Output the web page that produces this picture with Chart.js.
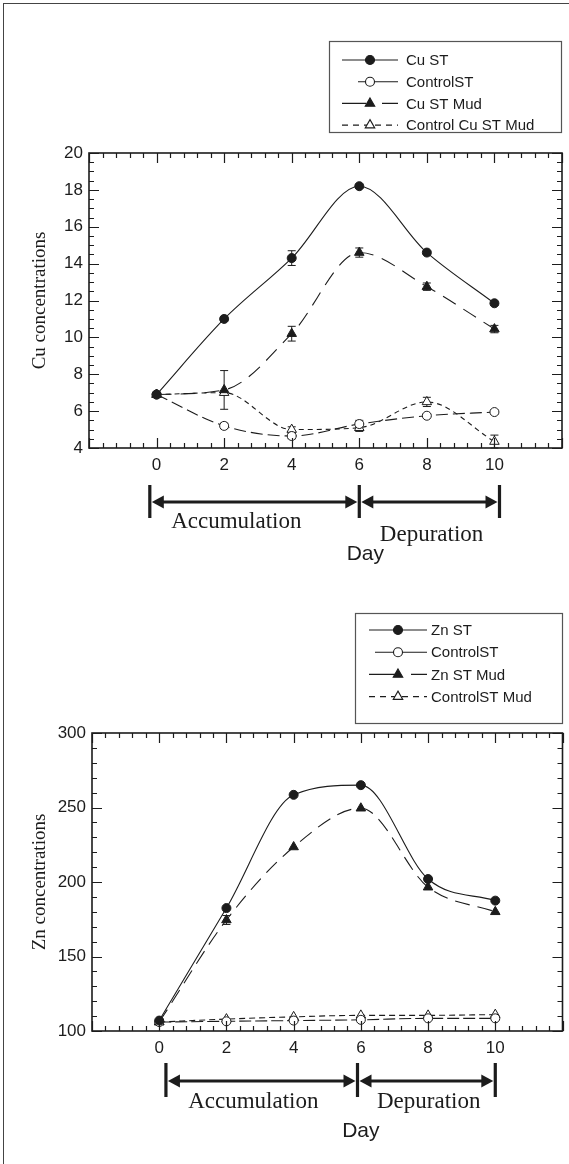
<!DOCTYPE html>
<html>
<head>
<meta charset="utf-8">
<script src="https://cdn.jsdelivr.net/npm/chart.js@4.4.0/dist/chart.umd.min.js"></script>
<style>
  body { margin: 0; background: #fff; width: 569px; height: 1164px; position: relative; overflow: hidden; }
  .frame { position: absolute; left: 3px; top: 3px; width: 600px; height: 1200px; border-left: 1px solid #444; border-top: 1px solid #444; }
  #cuChart { position: absolute; left: 0; top: 0; }
  #znChart { position: absolute; left: 0; top: 582px; }
</style>
</head>
<body>
<div class="frame"></div>
<canvas id="cuChart" width="569" height="582"></canvas>
<canvas id="znChart" width="569" height="582"></canvas>
<script>
// ---- data ----
const days = [0, 2, 4, 6, 8, 10];
const dayTicks = [0, 2, 4, 6, 8, 10];

const cuTicks = [4, 6, 8, 10, 12, 14, 16, 18, 20];
const cuST = [6.9, 11.0, 14.3, 18.2, 14.6, 11.85];
const cuSTErr = [0.1, 0.1, 0.4, 0.1, 0.1, 0.1];
const cuControlST = [6.9, 5.2, 4.65, 5.3, 5.75, 5.95];
const cuControlSTErr = [0.1, 0.15, 0.15, 0.2, 0.1, 0.1];
const cuSTMud = [6.9, 7.15, 10.2, 14.6, 12.75, 10.45];
const cuSTMudErr = [0.1, 1.05, 0.4, 0.25, 0.2, 0.2];
const cuControlMud = [6.9, 7.0, 5.0, 5.1, 6.5, 4.35];
const cuControlMudErr = [0.1, 0.1, 0.15, 0.2, 0.25, 0.35];

const znTicks = [100, 150, 200, 250, 300];
const znST = [107, 182.5, 258.5, 265, 202, 187.5];
const znSTErr = [0, 0, 0, 0, 0, 0];
const znControlST = [106, 106.5, 107, 107.5, 108.5, 108.5];
const znControlSTErr = [0, 0, 0, 0, 0, 0];
const znSTMud = [106, 174.5, 223.5, 249.5, 196.5, 180];
const znSTMudErr = [0, 3, 0, 0, 0, 0];
const znControlMud = [106, 108, 109.5, 110.5, 110.5, 111];
const znControlMudErr = [0, 0, 0, 0, 0, 0];

const ink = '#1c1c1c';
const sans = "'Liberation Sans', Arial, sans-serif";
const serif = "'Liberation Serif', 'Times New Roman', serif";

function pts(vals) {
  return days.map((d, i) => ({ x: d, y: vals[i] }));
}

function series(label, vals, errs, style, filled, dash, legendDash) {
  return {
    label: label,
    data: pts(vals),
    errors: errs,
    legendDash: legendDash,
    borderColor: ink,
    borderWidth: 1.1,
    borderDash: dash,
    pointStyle: style,
    pointRadius: style === 'triangle' ? 5.5 : 4.5,
    pointBorderWidth: 1,
    pointBorderColor: ink,
    pointBackgroundColor: filled ? ink : '#fff',
    cubicInterpolationMode: 'monotone',
    fill: false
  };
}

function isMajor(v, step) {
  return Math.abs(v / step - Math.round(v / step)) < 1e-6;
}

// box around the plot, with ticks on all four sides pointing in
const boxTicks = {
  id: 'boxTicks',
  afterDraw(chart, args, o) {
    const { ctx, chartArea: a, scales: { x, y } } = chart;
    ctx.save();
    ctx.strokeStyle = ink;
    ctx.lineWidth = 1.6;
    ctx.strokeRect(a.left, a.top, a.right - a.left, a.bottom - a.top);
    ctx.lineWidth = 1.2;
    ctx.beginPath();
    for (let i = 0; ; i++) {
      const v = x.min + i * o.xMinor;
      if (v > x.max + 1e-6) break;
      const len = isMajor(v, o.xMajor) ? 10 : 5;
      const px = Math.round(x.getPixelForValue(v)) + 0.5;
      ctx.moveTo(px, a.bottom); ctx.lineTo(px, a.bottom - len);
      ctx.moveTo(px, a.top); ctx.lineTo(px, a.top + len);
    }
    for (let i = 0; ; i++) {
      const v = y.min + i * o.yMinor;
      if (v > y.max + 1e-6) break;
      const len = isMajor(v, o.yMajor) ? 10 : 5;
      const py = Math.round(y.getPixelForValue(v)) + 0.5;
      ctx.moveTo(a.left, py); ctx.lineTo(a.left + len, py);
      ctx.moveTo(a.right, py); ctx.lineTo(a.right - len, py);
    }
    ctx.stroke();
    ctx.restore();
  }
};

// vertical error bars with caps
const errorBars = {
  id: 'errorBars',
  beforeDatasetsDraw(chart) {
    const { ctx, scales: { x, y } } = chart;
    ctx.save();
    ctx.strokeStyle = ink;
    ctx.lineWidth = 1;
    chart.data.datasets.forEach(ds => {
      if (!ds.errors) return;
      ds.data.forEach((p, i) => {
        const e = ds.errors[i];
        if (!e) return;
        const px = x.getPixelForValue(p.x);
        const y1 = y.getPixelForValue(p.y - e);
        const y2 = y.getPixelForValue(p.y + e);
        ctx.beginPath();
        ctx.moveTo(px, y1); ctx.lineTo(px, y2);
        ctx.moveTo(px - 4, y1); ctx.lineTo(px + 4, y1);
        ctx.moveTo(px - 4, y2); ctx.lineTo(px + 4, y2);
        ctx.stroke();
      });
    });
    ctx.restore();
  }
};

// legend in a box, line sample with marker in the middle
const boxLegend = {
  id: 'boxLegend',
  afterDraw(chart, args, o) {
    const ctx = chart.ctx;
    const [bx0, by0, bx1, by1] = o.box;
    ctx.save();
    ctx.strokeStyle = '#555';
    ctx.lineWidth = 1.2;
    ctx.strokeRect(bx0 + 0.5, by0 + 0.5, bx1 - bx0, by1 - by0);
    ctx.font = '15px ' + sans;
    ctx.textBaseline = 'middle';
    ctx.fillStyle = ink;
    chart.data.datasets.forEach((ds, i) => {
      const ry = o.rowY + i * o.rowGap;
      ctx.strokeStyle = ink;
      ctx.lineWidth = 1.1;
      ctx.setLineDash(ds.legendDash || []);
      ctx.beginPath();
      ctx.moveTo(o.lineX[0], ry); ctx.lineTo(o.lineX[1], ry);
      ctx.stroke();
      ctx.setLineDash([]);
      const mx = (o.lineX[0] + o.lineX[1]) / 2;
      ctx.fillStyle = ds.pointBackgroundColor;
      ctx.strokeStyle = ds.pointBorderColor;
      Chart.helpers.drawPoint(ctx, {
        pointStyle: ds.pointStyle, radius: ds.pointRadius, rotation: 0, borderWidth: 1
      }, mx, ry);
      ctx.fillStyle = ink;
      ctx.fillText(ds.label, o.textX, ry + 1);
    });
    ctx.restore();
  }
};

// Accumulation / Depuration arrows and the "Day" caption under the x axis
function arrowHead(ctx, tipX, y, dir) {
  ctx.beginPath();
  ctx.moveTo(tipX, y);
  ctx.lineTo(tipX + dir * 12, y - 6.5);
  ctx.lineTo(tipX + dir * 12, y + 6.5);
  ctx.closePath();
  ctx.fill();
}

const phases = {
  id: 'phases',
  afterDraw(chart, args, o) {
    const { ctx, chartArea: a, scales: { x } } = chart;
    const b = a.bottom;
    const bx = o.bars.map(v => x.getPixelForValue(v));
    ctx.save();
    ctx.strokeStyle = ink;
    ctx.fillStyle = ink;
    ctx.lineWidth = 3.2;
    ctx.beginPath();
    bx.forEach(px => { ctx.moveTo(px, b + o.barTop); ctx.lineTo(px, b + o.barBottom); });
    ctx.stroke();
    const ay = b + o.arrowY;
    ctx.lineWidth = 3;
    for (let i = 0; i < bx.length - 1; i++) {
      const l = bx[i] + 2, r = bx[i + 1] - 2;
      ctx.beginPath();
      ctx.moveTo(l + 8, ay); ctx.lineTo(r - 8, ay);
      ctx.stroke();
      arrowHead(ctx, l, ay, 1);
      arrowHead(ctx, r, ay, -1);
    }
    ctx.textAlign = 'center';
    ctx.textBaseline = 'alphabetic';
    ctx.font = '23px ' + serif;
    o.labels.forEach(t => ctx.fillText(t.text, x.getPixelForValue(t.at), b + t.dy));
    ctx.font = '21px ' + sans;
    ctx.fillText('Day', x.getPixelForValue(o.day.at), b + o.day.dy);
    ctx.restore();
  }
};

function makeChart(id, datasets, yTicks, yMin, yMax, yTitle, geom, extra) {
  return new Chart(document.getElementById(id), {
    type: 'line',
    data: { datasets: datasets },
    plugins: [errorBars, boxTicks, boxLegend, phases],
    options: {
      responsive: false,
      animation: false,
      devicePixelRatio: 1,
      layout: { padding: { left: 0, top: geom.top, right: 569 - geom.right, bottom: 582 - geom.bottom - 30 } },
      scales: {
        x: {
          type: 'linear', min: -2, max: 12,
          grid: { display: false, drawTicks: false },
          border: { display: false },
          afterBuildTicks: s => { s.ticks = dayTicks.map(v => ({ value: v })); },
          afterFit: s => { s.height = 30; },
          ticks: { color: ink, font: { family: sans, size: 17 }, padding: 7, maxRotation: 0, autoSkip: false }
        },
        y: {
          type: 'linear', min: yMin, max: yMax,
          grid: { display: false, drawTicks: false },
          border: { display: false },
          afterBuildTicks: s => { s.ticks = yTicks.map(v => ({ value: v })); },
          afterFit: s => { s.width = geom.left; },
          ticks: { color: ink, font: { family: sans, size: 17 }, padding: 6, autoSkip: false },
          title: { display: true, text: yTitle, color: ink, font: { family: serif, size: 19 }, padding: { top: 29 } }
        }
      },
      plugins: {
        legend: { display: false },
        tooltip: { enabled: false },
        boxTicks: extra.ticks,
        boxLegend: extra.legend,
        phases: extra.phases
      }
    }
  });
}

makeChart('cuChart', [
  series('Cu ST', cuST, cuSTErr, 'circle', true, [], []),
  series('ControlST', cuControlST, cuControlSTErr, 'circle', false, [12, 5], [0, 16, 60]),
  series('Cu ST Mud', cuSTMud, cuSTMudErr, 'triangle', true, [15, 9], [24, 16]),
  series('Control Cu ST Mud', cuControlMud, cuControlMudErr, 'triangle', false, [5, 4], [6, 5])
], cuTicks, 4, 20, 'Cu concentrations',
  { left: 89, right: 562, top: 153, bottom: 448 },
  {
    ticks: { xMinor: 0.4, xMajor: 2, yMinor: 0.5, yMajor: 2 },
    legend: { box: [329, 41, 561, 132], rowY: 60, rowGap: 21.7, lineX: [342, 398], textX: 406 },
    phases: {
      bars: [-0.2, 6, 10.15], barTop: 37, barBottom: 70, arrowY: 54,
      labels: [{ text: 'Accumulation', at: 2.36, dy: 80 }, { text: 'Depuration', at: 8.14, dy: 93 }],
      day: { at: 6.18, dy: 112 }
    }
  });

makeChart('znChart', [
  series('Zn ST', znST, znSTErr, 'circle', true, [], []),
  series('ControlST', znControlST, znControlSTErr, 'circle', false, [12, 4], [0, 6, 80]),
  series('Zn ST Mud', znSTMud, znSTMudErr, 'triangle', true, [15, 8], [26, 16]),
  series('ControlST Mud', znControlMud, znControlMudErr, 'triangle', false, [6, 4], [6, 5])
], znTicks, 100, 300, 'Zn concentrations',
  { left: 92, right: 564, top: 151, bottom: 449 },
  {
    ticks: { xMinor: 0.4, xMajor: 2, yMinor: 10, yMajor: 50 },
    legend: { box: [355, 31, 562, 141], rowY: 48, rowGap: 22.2, lineX: [369, 427], textX: 431 },
    phases: {
      bars: [0.2, 5.9, 10], barTop: 32, barBottom: 66, arrowY: 50,
      labels: [{ text: 'Accumulation', at: 2.8, dy: 77 }, { text: 'Depuration', at: 8.02, dy: 77 }],
      day: { at: 6.0, dy: 106 }
    }
  });
</script>
</body>
</html>
